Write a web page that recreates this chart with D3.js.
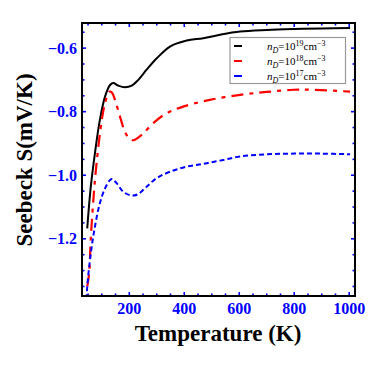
<!DOCTYPE html>
<html><head><meta charset="utf-8">
<script src="https://cdn.jsdelivr.net/npm/d3@7"></script>
<style>body{margin:0;background:#fff}</style>
</head><body>
<svg id="c" width="382" height="370"></svg>
<script>
const temps19 = [47,60,75,93,112,130,142,160,184,209,233,263,300,348,409,469,530,603,700,800,900,1003];
const seebeck19 = [-1.167,-1.036,-0.931,-0.826,-0.752,-0.716,-0.710,-0.718,-0.723,-0.718,-0.700,-0.668,-0.632,-0.595,-0.576,-0.569,-0.558,-0.548,-0.543,-0.540,-0.538,-0.537];
const temps18 = [47,54,60,70,81,100,112,127,137,148,166,184,200,215,245,287,336,396,493,603,700,796,863,1003];
const seebeck18 = [-1.35,-1.309,-1.198,-1.07,-0.962,-0.826,-0.773,-0.737,-0.740,-0.763,-0.815,-0.863,-0.884,-0.890,-0.873,-0.836,-0.805,-0.784,-0.763,-0.747,-0.738,-0.731,-0.731,-0.737];
const temps17 = [45,47,60,75,93,112,130,138,154,178,209,233,263,300,348,409,469,530,603,700,800,900,1003];
const seebeck17 = [-1.39,-1.351,-1.246,-1.162,-1.088,-1.041,-1.015,-1.012,-1.025,-1.052,-1.064,-1.059,-1.036,-1.009,-0.989,-0.973,-0.964,-0.954,-0.941,-0.934,-0.932,-0.932,-0.934];
const xTicks = [200,400,600,800,1000];
const yTicks = [-0.6,-0.8,-1.0,-1.2];
const legendLabels = ["19","18","17"];

const L=82,R=355,T=23,B=296;
const x = d3.scaleLinear().domain([28,1021]).range([L,R]);
const y = d3.scaleLinear().domain([-1.38,-0.521]).range([B,T]);
const svg = d3.select("#c");
const blue = "#0000ff";

svg.append("defs").append("clipPath").attr("id","clip").append("rect")
  .attr("x",L).attr("y",T).attr("width",R-L).attr("height",B-T);

const series = [
  {t:temps19, s:seebeck19, color:"#000", dash:null, w:2},
  {t:temps18, s:seebeck18, color:"#ff0000", dash:"12,6,4,6", w:2.2},
  {t:temps17, s:seebeck17, color:blue, dash:"5,3", w:2}
];
const line = d3.line().x(d=>x(d[0])).y(d=>y(d[1])).curve(d3.curveCatmullRom.alpha(0.5));
const g = svg.append("g").attr("clip-path","url(#clip)");
series.forEach(sr=>{
  g.append("path").attr("d",line(d3.zip(sr.t,sr.s))).attr("fill","none")
   .attr("stroke",sr.color).attr("stroke-width",sr.w)
   .attr("stroke-dasharray",sr.dash);
});

// ticks
const xMinor = d3.range(50,1001,50), yMinor = d3.range(-1.35,-0.52,0.05);
const tk = svg.append("g").attr("stroke",blue).attr("stroke-width",1.6);
xMinor.forEach(v=>{
  const len = xTicks.includes(v)?4:2.5;
  tk.append("line").attr("x1",x(v)).attr("x2",x(v)).attr("y1",B).attr("y2",B-len);
  tk.append("line").attr("x1",x(v)).attr("x2",x(v)).attr("y1",T).attr("y2",T+len);
});
yMinor.forEach(v=>{
  const maj = yTicks.some(t=>Math.abs(t-v)<1e-6);
  const len = maj?4:2.5;
  tk.append("line").attr("x1",L).attr("x2",L+len).attr("y1",y(v)).attr("y2",y(v));
  tk.append("line").attr("x1",R).attr("x2",R-len).attr("y1",y(v)).attr("y2",y(v));
});

// frame
svg.append("rect").attr("x",L).attr("y",T).attr("width",R-L).attr("height",B-T)
  .attr("fill","none").attr("stroke","#000").attr("stroke-width",2);

const font = "'Liberation Serif','Times New Roman',serif";
xTicks.forEach(v=>{
  svg.append("text").attr("x",x(v)).attr("y",314).attr("text-anchor","middle")
   .attr("font-family",font).attr("font-weight","bold").attr("font-size",16).attr("fill",blue)
   .text(v);
});
yTicks.forEach(v=>{
  svg.append("text").attr("x",77).attr("y",y(v)+5.5).attr("text-anchor","end")
   .attr("font-family",font).attr("font-weight","bold").attr("font-size",16).attr("fill",blue)
   .text("\u2212"+Math.abs(v).toFixed(1));
});
svg.append("text").attr("x",218).attr("y",341).attr("text-anchor","middle")
  .attr("font-family",font).attr("font-weight","bold").attr("font-size",23).attr("fill","#000")
  .text("Temperature (K)");
svg.append("text").attr("transform","translate(32,160) rotate(-90)").attr("text-anchor","middle")
  .attr("font-family",font).attr("font-weight","bold").attr("font-size",23).attr("fill","#000")
  .text("Seebeck S(mV/K)");

// legend
svg.append("rect").attr("x",230).attr("y",37.5).attr("width",115.5).attr("height",46)
  .attr("fill","#fff").attr("stroke","#999").attr("stroke-width",1.2);
const lcols = ["#000","#ff0000",blue];
legendLabels.forEach((p,i)=>{
  const yy = 46 + i*15;
  svg.append("line").attr("x1",234).attr("x2",242).attr("y1",yy).attr("y2",yy)
    .attr("stroke",lcols[i]).attr("stroke-width",2);
  const t = svg.append("text").attr("x",267).attr("y",yy+4)
    .attr("font-family",font).attr("font-size",11).attr("fill","#000");
  t.append("tspan").attr("font-style","italic").text("n");
  t.append("tspan").attr("font-style","italic").attr("font-size",8).attr("dy",2.5).text("D");
  t.append("tspan").attr("dy",-2.5).text("=10");
  t.append("tspan").attr("font-size",8).attr("dy",-4).text(p);
  t.append("tspan").attr("dy",4).text("cm");
  t.append("tspan").attr("font-size",8).attr("dy",-4).text("\u22123");
});
</script>
</body></html>
